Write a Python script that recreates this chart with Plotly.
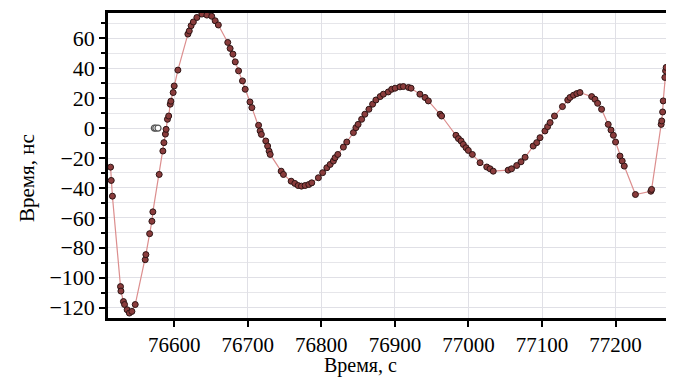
import plotly.graph_objects as go

# main series (time, s ; time offset, ns)
t_s = [76513.5, 76514.4, 76516.0, 76527.0, 76527.6, 76531.0, 76532.5, 76536.0, 76539.0, 76542.5,
       76547.0, 76560.6, 76561.5, 76566.6, 76569.7, 76571.0, 76579.6, 76584.6, 76586.0, 76588.0,
       76589.0, 76590.8, 76592.5, 76594.6, 76595.5, 76598.6, 76600.0, 76605.0, 76618.6, 76620.5,
       76623.0, 76626.0, 76630.8, 76637.6, 76644.4, 76651.0, 76655.7, 76660.0, 76672.8, 76676.0,
       76679.8, 76683.0, 76687.5, 76692.8, 76696.5, 76703.0, 76705.6, 76714.7, 76716.8, 76718.5,
       76724.5, 76727.0, 76729.0, 76730.5, 76745.4, 76748.5, 76759.0, 76764.0, 76768.5, 76773.0,
       76778.0, 76783.0, 76787.0, 76796.0, 76801.8, 76807.5, 76812.0, 76816.4, 76818.7, 76822.4,
       76830.0, 76834.6, 76843.6, 76847.0, 76850.0, 76854.8, 76859.2, 76864.7, 76869.7, 76874.2,
       76880.0, 76884.4, 76891.0, 76895.7, 76900.3, 76907.0, 76911.5, 76918.6, 76922.0, 76934.0,
       76941.0, 76945.5, 76961.4, 76963.5, 76983.0, 76986.4, 76990.0, 76993.0, 76996.7, 76999.8,
       77005.3, 77015.8, 77024.9, 77029.3, 77033.7, 77054.0, 77058.6, 77065.6, 77071.5, 77077.0,
       77088.0, 77092.8, 77097.3, 77104.0, 77107.6, 77111.0, 77117.0, 77127.8, 77135.0, 77138.0,
       77142.8, 77147.3, 77151.6, 77167.5, 77172.0, 77175.6, 77181.0, 77190.0, 77193.8, 77197.0,
       77200.0, 77206.0, 77209.0, 77211.8, 77227.0, 77248.0, 77249.0, 77262.0, 77262.8, 77264.0,
       77264.8, 77267.0, 77268.0, 77268.8]
dt_ns = [-26.1, -35.0, -45.5, -106.0, -109.0, -116.0, -118.0, -121.5, -123.7, -122.6,
         -118.0, -88.0, -84.6, -70.6, -62.3, -56.0, -31.0, -15.3, -9.7, -4.0,
         -0.8, 5.9, 8.1, 16.0, 18.0, 23.8, 28.2, 38.8, 62.9, 65.0,
         68.5, 71.0, 74.0, 76.3, 75.6, 74.8, 71.8, 69.0, 57.3, 53.3,
         49.5, 44.3, 38.3, 31.6, 26.0, 17.5, 13.7, 1.9, -1.9, -4.2,
         -8.6, -12.0, -15.4, -17.6, -28.8, -31.0, -35.5, -37.0, -38.4, -38.8,
         -38.4, -37.7, -36.6, -33.2, -29.8, -26.5, -24.3, -22.0, -19.8, -17.6,
         -12.7, -9.3, -3.0, 0.3, 2.5, 5.9, 9.3, 12.6, 16.0, 18.8,
         21.1, 22.7, 24.2, 26.0, 26.7, 27.6, 27.8, 27.2, 26.7, 22.7,
         20.5, 18.2, 9.3, 8.1, -4.8, -7.0, -8.6, -10.9, -13.1, -14.9,
         -17.6, -23.1, -26.0, -27.2, -28.8, -28.1, -27.2, -25.0, -22.5, -19.5,
         -12.0, -9.7, -6.4, -1.9, 1.0, 3.7, 8.1, 14.4, 18.8, 20.5,
         22.0, 23.1, 23.8, 21.1, 19.3, 16.6, 12.6, 2.5, -1.3, -4.8,
         -9.3, -18.7, -22.0, -25.4, -44.4, -42.2, -41.0, 2.5, 4.8, 10.8,
         18.2, 33.9, 38.3, 40.6]

# outlier (hollow) points
t_out = [76573.0, 76575.0, 76578.0]
dt_out = [0.0, 0.0, 0.0]

x_ticks = [76600, 76700, 76800, 76900, 77000, 77100, 77200]
y_ticks = [-120, -100, -80, -60, -40, -20, 0, 20, 40, 60]
y_tick_text = ["\u2212120", "\u2212100", "\u221280", "\u221260", "\u221240", "\u221220", "0", "20", "40", "60"]

FONT = "Liberation Serif"

fig = go.Figure()
fig.add_trace(go.Scatter(
    x=t_s, y=dt_ns, mode="lines+markers",
    line=dict(color="#dc8e8e", width=1.2),
    marker=dict(size=6, color="#8a3c3c", line=dict(color="#2e1414", width=1)),
    showlegend=False))
fig.add_trace(go.Scatter(
    x=t_out, y=dt_out, mode="markers",
    marker=dict(size=6, color="white", line=dict(color="#555555", width=1.2)),
    showlegend=False))

# the page body has an 8px margin, so the figure is offset by 8px
fig.update_layout(
    width=666, height=370,
    margin=dict(l=100, r=4, t=5, b=60),
    paper_bgcolor="white", plot_bgcolor="white",
    font=dict(family=FONT, size=21, color="black"),
)
fig.update_xaxes(
    range=[76510, 77274], tickvals=x_ticks, ticktext=[str(v) for v in x_ticks],
    tickfont=dict(family=FONT, size=21),
    showline=True, linecolor="black", linewidth=2.5, mirror=True,
    ticks="outside", ticklen=6, tickwidth=2, tickcolor="black",
    showgrid=True, gridcolor="#e0e0e6", gridwidth=1, zeroline=False,
    automargin=False,
)
fig.update_yaxes(
    range=[-127, 77], tickvals=y_ticks, ticktext=y_tick_text,
    tickfont=dict(family=FONT, size=22),
    showline=True, linecolor="black", linewidth=2.5, mirror=True,
    ticks="outside", ticklen=6, tickwidth=2, tickcolor="black",
    showgrid=True, gridcolor="#e0e0e6", gridwidth=1, zeroline=False,
    automargin=False,
    minor=dict(dtick=10, tick0=0, ticks="outside", ticklen=4, tickwidth=1.5, tickcolor="black",
               showgrid=True, gridcolor="#e6e6ea", gridwidth=1),
)
fig.add_annotation(text="Время, с", xref="paper", yref="paper", x=0.45, y=0,
                   xanchor="center", yanchor="middle", yshift=-47, showarrow=False,
                   borderpad=0, font=dict(family=FONT, size=20))
fig.add_annotation(text="Время, нс", xref="paper", yref="paper", x=0, y=0.459,
                   xanchor="center", yanchor="middle", xshift=-81, textangle=-90, showarrow=False,
                   font=dict(family=FONT, size=21))

fig.write_html("out.html")
